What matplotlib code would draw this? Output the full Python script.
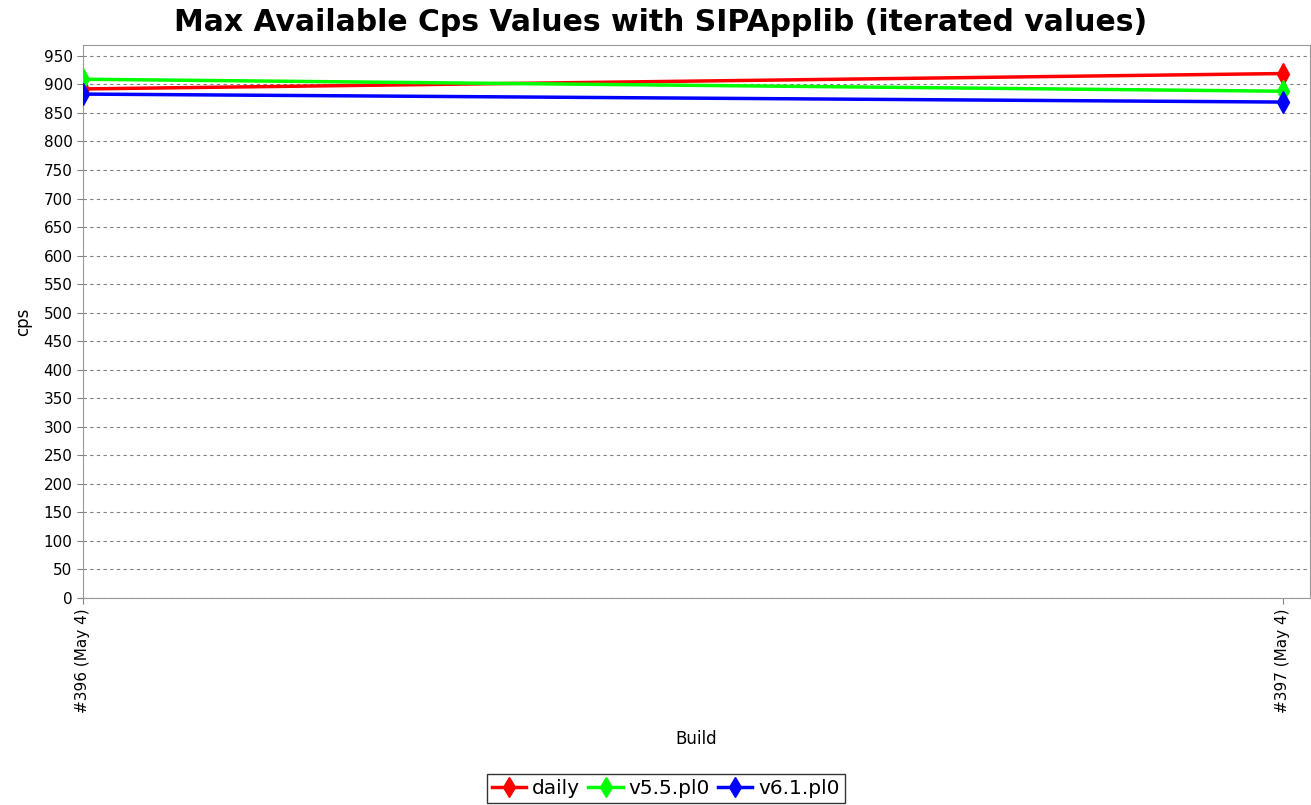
import matplotlib
matplotlib.use("Agg")
import matplotlib.pyplot as plt
from matplotlib.lines import Line2D

builds = ["#396 (May 4)", "#397 (May 4)"]
daily = [892, 919]
v55 = [909, 888]
v61 = [883, 869]
series = [("daily", daily, "#ff0000"), ("v5.5.pl0", v55, "#00ff00"), ("v6.1.pl0", v61, "#0000ff")]

fig = plt.figure(figsize=(13.11, 8.05), dpi=100)
ax = fig.add_axes([83/1311, 1-598/805, 1227/1311, (598-45)/805])
x = list(range(len(builds)))
for name, vals, c in series:
    ax.plot(x, vals, color=c, lw=2.5, marker="d", ms=11, label=name, clip_on=True, zorder=3)

ax.set_xlim(0, 1 + 27/1200)
ax.set_ylim(0, 969)
ax.set_yticks(range(0, 951, 50))
ax.set_xticks(x)
ax.set_xticklabels(builds, rotation=90, fontsize=11)
ax.tick_params(axis="y", labelsize=11, length=4, color="gray")
ax.tick_params(axis="x", length=4, color="gray")
ax.grid(axis="y", color="gray", linestyle=(0, (3, 3)), lw=0.8)
for s in ax.spines.values():
    s.set_color("#999999")
ax.set_ylabel("cps", fontsize=12, labelpad=8)
ax.set_xlabel("Build", fontsize=12, labelpad=12)
fig.suptitle("Max Available Cps Values with SIPApplib (iterated values)", fontsize=21.5,
             fontweight="bold", x=661/1311, y=0.99)
handles = [Line2D([0], [0], color=c, lw=2.5, marker="d", ms=10) for _, _, c in series]
leg = fig.legend(handles, [n for n, _, _ in series], loc="lower center", ncol=3,
                 bbox_to_anchor=(666/1311, 0.0), fontsize=14.5, frameon=True, fancybox=False,
                 handlelength=1.7, handletextpad=0.3, columnspacing=0.4, borderpad=0.25,
                 borderaxespad=0.1)
leg.get_frame().set_edgecolor("black")
leg.get_frame().set_linewidth(1)
fig.savefig("out.png", dpi=100)
